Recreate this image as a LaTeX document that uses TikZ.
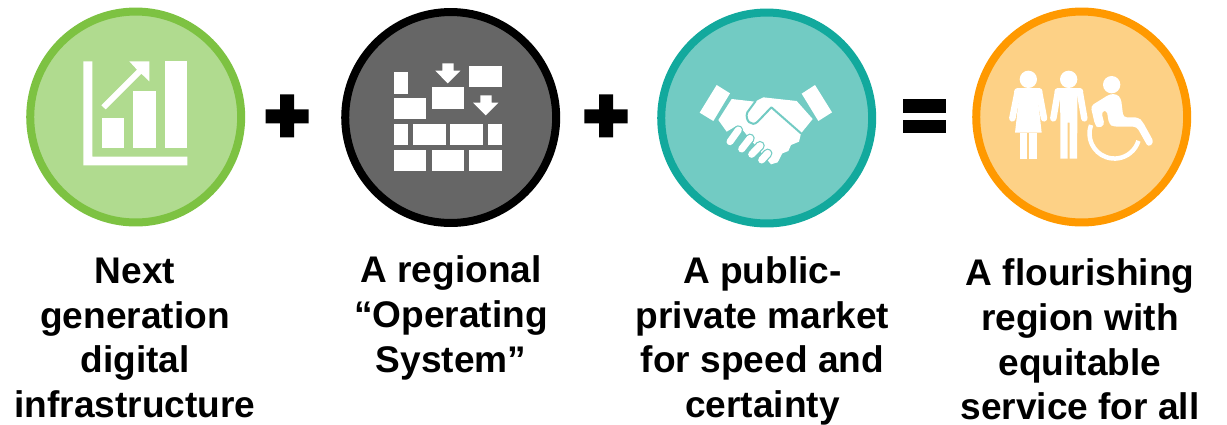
\documentclass[tikz,border=0pt]{standalone}
\usepackage{fontspec}
\setmainfont{Liberation Sans}
\definecolor{chartline}{HTML}{7DC242}
\definecolor{chartfill}{HTML}{B0DB8F}
\definecolor{wallfill}{HTML}{666666}
\definecolor{dealline}{HTML}{12A99D}
\definecolor{dealfill}{HTML}{72CBC3}
\definecolor{peopleline}{HTML}{FF9900}
\definecolor{peoplefill}{HTML}{FDD186}
\tikzset{
  ring/.style={circle,draw=#1,line width=0.16cm,inner sep=0pt,minimum size=4.22cm},
  caption/.style={align=center,font=\fontsize{21.1}{25.5}\selectfont\bfseries,inner sep=0pt},
  crop/.style={shift={(#1,0)},scale=1/3},
  glyph/.style={fill=white},
  limb/.style={draw=white,line cap=round,line join=round,line width=0.13cm},
  sign/.style={fill=black}
}
\begin{document}
\begin{tikzpicture}[x=0.02cm,y=0.02cm]
\useasboundingbox (0,0) rectangle (1227,-424);
\node [ring=chartline,fill=chartfill] (chart) at (135.7,-117) {};
\node [ring=black,fill=wallfill] (wall) at (450.7,-117.5) {};
\node [ring=dealline,fill=dealfill] (deal) at (766.7,-118) {};
\node [ring=peopleline,fill=peoplefill] (people) at (1081.7,-117) {};
% chart icon
\begin{scope}[crop=20]
\fill [glyph] (190,-184) -- (217,-184) -- (217,-470) -- (502,-470) -- (502,-496) -- (190,-496) -- cycle;
\fill [glyph] (245,-354) rectangle (313,-444);
\fill [glyph] (339,-273) rectangle (408,-444);
\fill [glyph] (435,-184) rectangle (502,-444);
\fill [glyph] (244,-316) -- (351,-209) -- (328,-184) -- (388,-184) -- (388,-244) -- (364,-221) -- (257,-328) -- cycle;
\end{scope}
% wall icon
\begin{scope}[crop=335]
\foreach \xa/\ya/\xb/\yb in {176/216/220/281,176/294/273/358,290/262/387/326,403/197/501/262,
  176/371/220/436,234/371/332/436,346/371/443/436,458/371/501/436,
  176/449/273/513,290/449/387/513,403/449/501/513}
  \fill [glyph] (\xa,-\ya) rectangle (\xb,-\yb);
\fill [glyph] (322,-190) -- (356,-190) -- (356,-212) -- (376,-212) -- (338,-250) -- (301,-212) -- (322,-212) -- cycle;
\fill [glyph] (436,-286) -- (470,-286) -- (470,-308) -- (490,-308) -- (452,-346) -- (414,-308) -- (436,-308) -- cycle;
\end{scope}
% handshake icon
\begin{scope}[shift={(695,-75)},scale=1/3]
\fill [glyph] (65,-30) -- (105,-55) -- (55,-138) -- (14,-113) -- cycle;
\fill [glyph] (360,-30) -- (411,-112) -- (370,-138) -- (320,-56) -- cycle;
\fill [glyph] (110,-72) -- (180,-80) -- (205,-67) -- (305,-78) -- (353,-132) -- (318,-175) -- (312,-200) -- (288,-210)
  -- (280,-228) -- (262,-235) -- (248,-262) -- (228,-268) -- (135,-155) -- (125,-152) -- (95,-170) -- (70,-135) -- cycle;
\draw [dealfill,line width=0.04cm,line cap=round,line join=round] (182,-78) -- (157,-112) .. controls (148,-135) and (170,-158) .. (188,-140) -- (229,-97) -- (318,-175);
\foreach \xa/\ya/\xb/\yb in {130/-165/105/-200,165/-190/140/-222,195/-212/170/-238,218/-235/200/-255}{
  \draw [dealfill,line width=0.19cm,line cap=round] (\xa,\ya) -- (\xb,\yb);
  \draw [white,line width=0.14cm,line cap=round] (\xa,\ya) -- (\xb,\yb);
}
\end{scope}
% people icon
\begin{scope}[crop=960]
\fill [glyph] (205,-238) circle (26);
\fill [glyph] (326,-238) circle (26);
\fill [glyph] (455,-254) circle (26);
\fill [glyph] (180,-264) -- (230,-264) -- (245,-398) -- (165,-398) -- cycle;
\fill [glyph] (179,-398) rectangle (202,-476);
\fill [glyph] (208,-398) rectangle (231,-476);
\draw [limb] (172,-280) -- (157,-355);
\draw [limb] (238,-280) -- (252,-355);
\draw [limb] (172,-275) -- (238,-275);
\fill [glyph] (300,-264) -- (352,-264) -- (352,-368) -- (351,-476) -- (329,-476) -- (329,-368) -- (323,-368) -- (323,-476) -- (301,-476) -- (301,-368) -- cycle;
\draw [limb] (293,-280) -- (280,-355);
\draw [limb] (360,-280) -- (373,-355);
\draw [limb] (293,-275) -- (360,-275);
\fill [glyph,rounded corners=2pt] (392,-318) -- (450,-282) -- (470,-282) -- (483,-295) -- (490,-352) -- (535,-352) -- (548,-365) -- (582,-427) -- (565,-442) -- (530,-380) -- (460,-380) -- (447,-372) -- (440,-330) -- (424,-335) -- (434,-375) -- (415,-385) -- (405,-375) -- cycle;
\draw [white,line width=0.09cm] (393,-375) arc (160:343:75);
\end{scope}
% signs
\fill [sign] (280,-94.3) -- (294,-94.3) -- (294,-109.3) -- (308.7,-109.3) -- (308.7,-123.3) -- (294,-123.3) -- (294,-137.3) -- (280,-137.3) -- (280,-123.3) -- (265.7,-123.3) -- (265.7,-109.3) -- (280,-109.3) -- cycle;
\fill [sign] (599,-94.3) -- (613,-94.3) -- (613,-109.3) -- (627.7,-109.3) -- (627.7,-123.3) -- (613,-123.3) -- (613,-137.3) -- (599,-137.3) -- (599,-123.3) -- (584.3,-123.3) -- (584.3,-109.3) -- (599,-109.3) -- cycle;
\fill [sign] (903.3,-99) rectangle (946,-112.7);
\fill [sign] (903.3,-119.7) rectangle (946,-133.3);
% captions
\node [caption] (chartname) at (135,-338) {Next\\generation\\digital\\infrastructure};
\node [caption] (wallname) at (451,-318) {A regional\\“Operating\\System”};
\node [caption] (dealname) at (762.5,-341) {A public-\\private market\\for speed and\\certainty};
\node [caption] (peoplename) at (1080,-339.5) {A flourishing\\region with\\equitable\\service for all};
\end{tikzpicture}
\end{document}
